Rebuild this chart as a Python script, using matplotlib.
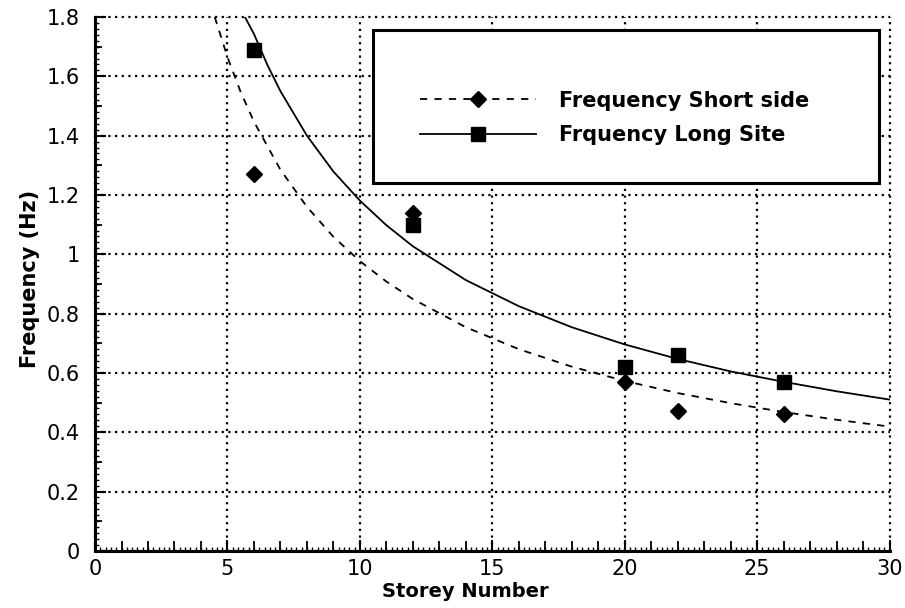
import matplotlib as mpl; mpl.use("Agg")
import matplotlib.pyplot as plt
from matplotlib.lines import Line2D
from matplotlib.patches import Rectangle
from matplotlib.ticker import MultipleLocator, NullFormatter

mpl.rcParams.update({
    "font.family": ["DejaVu Sans"],
    "font.size": 15,
})

# measured natural frequencies per building
storeys      = [6, 12, 20, 22, 26]
freq_short   = [1.27, 1.14, 0.57, 0.47, 0.46]
freq_long    = [1.69, 1.10, 0.62, 0.66, 0.57]

# fitted trend curves
trend_short_x = [4.52, 5, 5.5, 6, 7, 8, 9, 10, 11, 12, 14, 16, 18, 20, 22, 24, 26, 28, 30]
trend_short_y = [1.80, 1.665, 1.547, 1.447, 1.285, 1.160, 1.059, 0.977, 0.908, 0.849,
                 0.754, 0.680, 0.621, 0.573, 0.532, 0.498, 0.468, 0.442, 0.419]
trend_long_x  = [5.66, 6, 6.5, 7, 8, 9, 10, 11, 12, 14, 16, 18, 20, 22, 24, 26, 28, 30]
trend_long_y  = [1.80, 1.743, 1.640, 1.550, 1.400, 1.279, 1.181, 1.098, 1.027,
                 0.913, 0.825, 0.754, 0.696, 0.647, 0.605, 0.570, 0.538, 0.510]

xticks = [0, 5, 10, 15, 20, 25, 30]
yticks = [0, 0.2, 0.4, 0.6, 0.8, 1.0, 1.2, 1.4, 1.6, 1.8]
ytick_labels = ["0", "0.2", "0.4", "0.6", "0.8", "1", "1.2", "1.4", "1.6", "1.8"]

DASH = (0, (4, 4))

fig = plt.figure(figsize=(9.05, 6.08), dpi=100)
ax = fig.add_axes([0.105, 0.094, 0.878, 0.878])

ax.plot(trend_short_x, trend_short_y, color="black", lw=1.3, ls=DASH, zorder=3)
ax.plot(trend_long_x, trend_long_y, color="black", lw=1.3, zorder=3)
ax.plot(storeys, freq_long, ls="none", marker="s", ms=10, color="black", zorder=4)
ax.plot(storeys, freq_short, ls="none", marker="D", ms=8, color="black", zorder=5)

ax.set_xlim(0, 30)
ax.set_ylim(0, 1.8)
ax.set_xticks(xticks)
ax.set_yticks(yticks)
ax.set_yticklabels(ytick_labels)
# fine comb of small ticks along both axes
ax.xaxis.set_minor_locator(MultipleLocator(0.2))
ax.yaxis.set_minor_locator(MultipleLocator(0.02))
ax.tick_params(which="major", direction="in", length=8, width=1.5, pad=6,
               labelsize=15, top=False, right=False)
ax.tick_params(which="minor", direction="in", length=3, width=1.0,
               top=False, right=False)
ax.tick_params(axis="y", pad=11)

# medium ticks at every storey / every 0.1 Hz
secx = ax.secondary_xaxis("bottom")
secx.set_xticks(range(0, 31))
secx.xaxis.set_major_formatter(NullFormatter())
secx.tick_params(direction="in", length=7, width=1.3)
secx.spines["bottom"].set_visible(False)
secy = ax.secondary_yaxis("left")
secy.set_yticks([i / 10 for i in range(0, 19)])
secy.yaxis.set_major_formatter(NullFormatter())
secy.tick_params(direction="in", length=5, width=1.3)
secy.spines["left"].set_visible(False)

for side in ("top", "right"):
    ax.spines[side].set_visible(False)
for side in ("left", "bottom"):
    ax.spines[side].set_linewidth(2.2)

ax.grid(True, which="major", color="black", ls=(0, (1, 2)), lw=1.6)
for gl in ax.get_xgridlines() + ax.get_ygridlines():
    gl.set_clip_on(False)

ax.set_xlabel("Storey Number", fontsize=14, fontweight="bold")
ax.xaxis.set_label_coords(0.466, -0.058)
ax.set_ylabel("Frequency (Hz)", fontsize=15, fontweight="bold")
ax.yaxis.set_label_coords(-0.069, 0.51)

# legend box
ax.add_patch(Rectangle((0.35, 0.689), 0.637, 0.287, transform=ax.transAxes,
                       fill=True, fc="white", ec="black", lw=2.2, zorder=6))
handles = [
    Line2D([], [], color="black", lw=1.3, ls=DASH, marker="D", ms=8),
    Line2D([], [], color="black", lw=1.3, marker="s", ms=10),
]
labels = ["Frequency Short side", "Frquency Long Site"]
leg = ax.legend(handles, labels, loc="center left", bbox_to_anchor=(0.385, 0.811),
                frameon=False, numpoints=1, handlelength=5.6, handletextpad=1.1,
                labelspacing=0.7, prop={"weight": "bold", "size": 15})
leg.set_zorder(7)

fig.savefig("out.png", dpi=100, facecolor="white")
